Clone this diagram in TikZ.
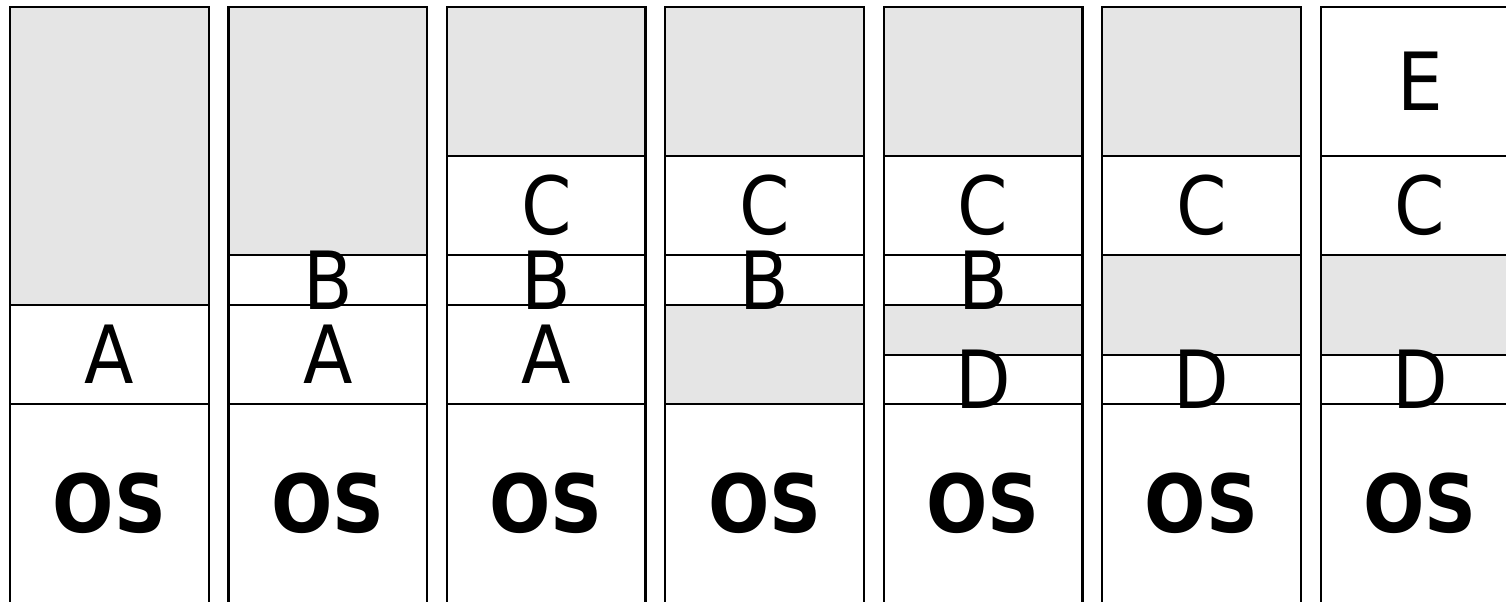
\documentclass[tikz,border=0pt]{standalone}
\usepackage{fontspec}
\setmainfont{DejaVu Sans Condensed}
\usepackage{tikz}
\usetikzlibrary{positioning}

\begin{document}
\begin{tikzpicture}[
  node distance=0pt,
  slot/.style={draw, line width=1.2pt, inner sep=0pt, outer sep=0pt, minimum width=4cm},
  free/.style={slot, fill=gray!20},
  used/.style={slot, fill=white},
  lbl/.style={font=\fontsize{46}{46}\selectfont},
  oslbl/.style={font=\fontsize{46}{46}\selectfont\bfseries},
]
  \useasboundingbox (-0.2014,0.141) rectangle (30.13,-11.964);
  % column 1
  \node[free, minimum height=6cm, anchor=north west] (f1) at (0,0) {};
  \node[used, minimum height=2cm, below=of f1] (a1) {};
  \node[used, minimum height=4cm, below=of a1] (os1) {};
  % column 2
  \node[free, minimum height=5cm, anchor=north west] (f2) at (4.4,0) {};
  \node[used, minimum height=1cm, below=of f2] (b2) {};
  \node[used, minimum height=2cm, below=of b2] (a2) {};
  \node[used, minimum height=4cm, below=of a2] (os2) {};
  % column 3
  \node[free, minimum height=3cm, anchor=north west] (f3) at (8.8,0) {};
  \node[used, minimum height=2cm, below=of f3] (c3) {};
  \node[used, minimum height=1cm, below=of c3] (b3) {};
  \node[used, minimum height=2cm, below=of b3] (a3) {};
  \node[used, minimum height=4cm, below=of a3] (os3) {};
  % column 4
  \node[free, minimum height=3cm, anchor=north west] (f4) at (13.2,0) {};
  \node[used, minimum height=2cm, below=of f4] (c4) {};
  \node[used, minimum height=1cm, below=of c4] (b4) {};
  \node[free, minimum height=2cm, below=of b4] (g4) {};
  \node[used, minimum height=4cm, below=of g4] (os4) {};
  % column 5
  \node[free, minimum height=3cm, anchor=north west] (f5) at (17.6,0) {};
  \node[used, minimum height=2cm, below=of f5] (c5) {};
  \node[used, minimum height=1cm, below=of c5] (b5) {};
  \node[free, minimum height=1cm, below=of b5] (g5) {};
  \node[used, minimum height=1cm, below=of g5] (d5) {};
  \node[used, minimum height=4cm, below=of d5] (os5) {};
  % column 6
  \node[free, minimum height=3cm, anchor=north west] (f6) at (22,0) {};
  \node[used, minimum height=2cm, below=of f6] (c6) {};
  \node[free, minimum height=2cm, below=of c6] (g6) {};
  \node[used, minimum height=1cm, below=of g6] (d6) {};
  \node[used, minimum height=4cm, below=of d6] (os6) {};
  % column 7
  \node[used, minimum height=3cm, anchor=north west] (e7) at (26.4,0) {};
  \node[used, minimum height=2cm, below=of e7] (c7) {};
  \node[free, minimum height=2cm, below=of c7] (g7) {};
  \node[used, minimum height=1cm, below=of g7] (d7) {};
  \node[used, minimum height=4cm, below=of d7] (os7) {};
  % labels
  \node[lbl] (ta1) at (a1) {A};
  \node[lbl] (tb2) at (b2) {B};
  \node[lbl] (ta2) at (a2) {A};
  \node[lbl] (tc3) at (c3) {C};
  \node[lbl] (tb3) at (b3) {B};
  \node[lbl] (ta3) at (a3) {A};
  \node[lbl] (tc4) at (c4) {C};
  \node[lbl] (tb4) at (b4) {B};
  \node[lbl] (tc5) at (c5) {C};
  \node[lbl] (tb5) at (b5) {B};
  \node[lbl] (td5) at (d5) {D};
  \node[lbl] (tc6) at (c6) {C};
  \node[lbl] (td6) at (d6) {D};
  \node[lbl] (te7) at (e7) {E};
  \node[lbl] (tc7) at (c7) {C};
  \node[lbl] (td7) at (d7) {D};
  \node[oslbl] (tos1) at (os1) {OS};
  \node[oslbl] (tos2) at (os2) {OS};
  \node[oslbl] (tos3) at (os3) {OS};
  \node[oslbl] (tos4) at (os4) {OS};
  \node[oslbl] (tos5) at (os5) {OS};
  \node[oslbl] (tos6) at (os6) {OS};
  \node[oslbl] (tos7) at (os7) {OS};
\end{tikzpicture}
\end{document}
